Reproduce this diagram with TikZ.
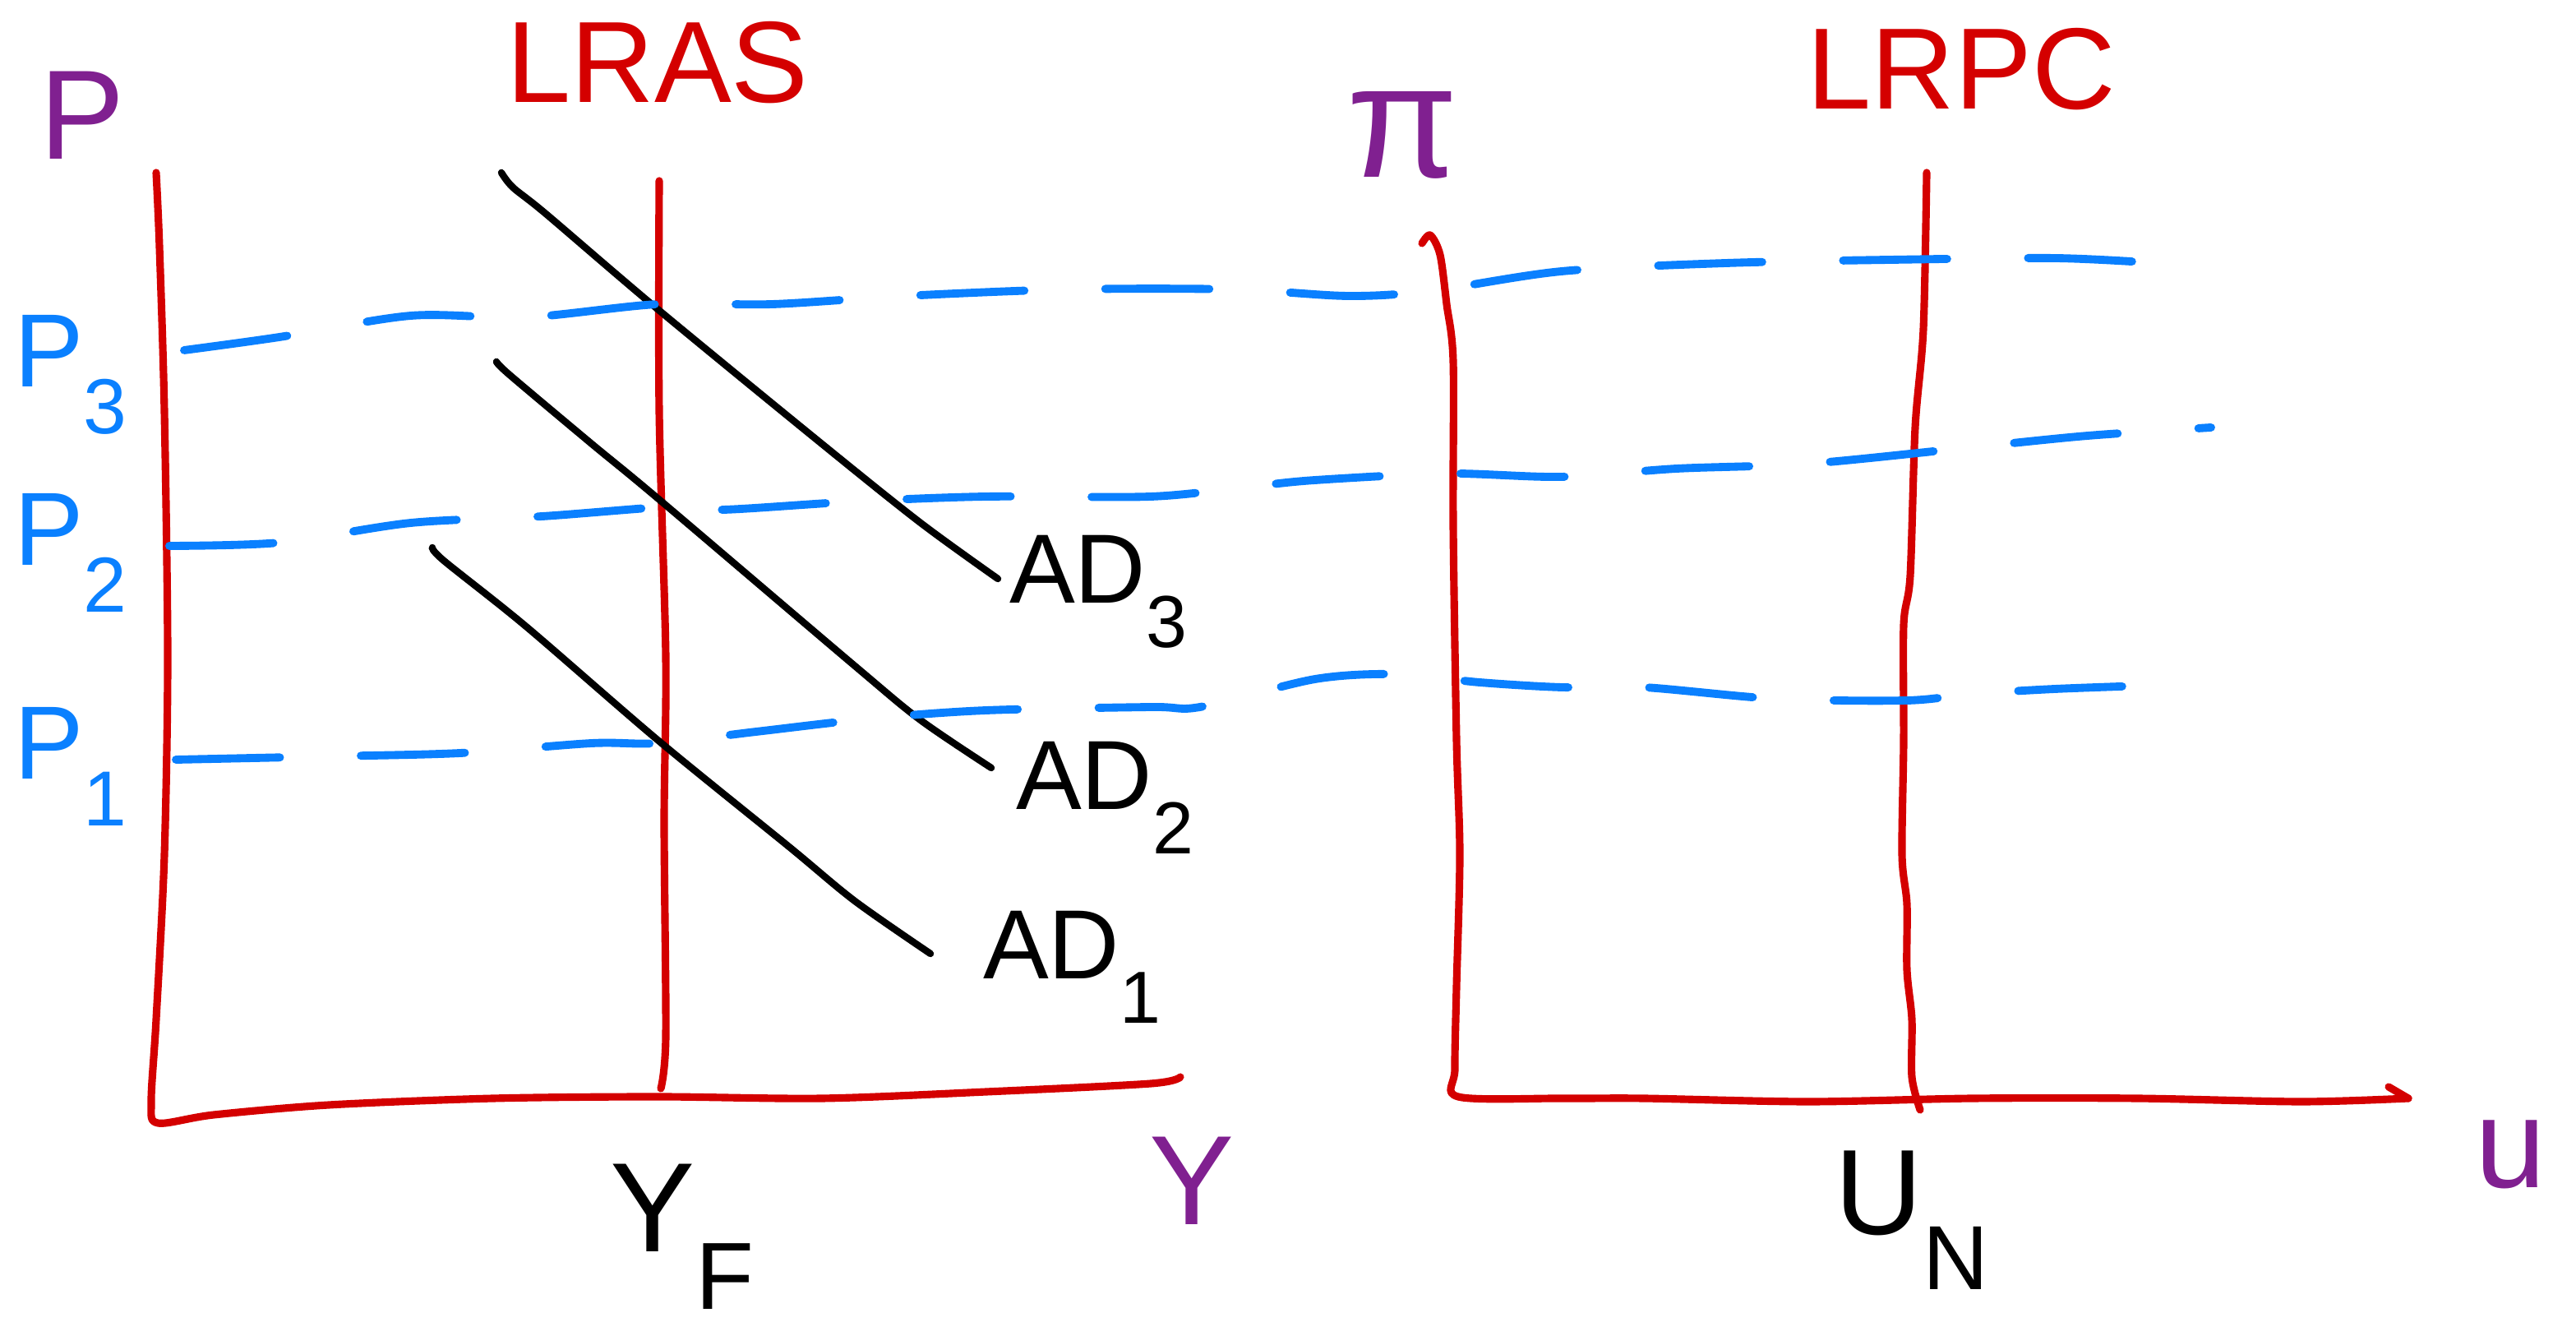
\documentclass[tikz,border=0pt]{standalone}
\usepackage{fontspec}
\setmainfont{Liberation Sans}
\definecolor{axred}{RGB}{212,0,0}
\definecolor{lblpurple}{RGB}{128,32,144}
\definecolor{dashblue}{RGB}{10,128,255}
\newcommand{\hsub}[1]{\raisebox{-0.45em}{\scalebox{0.75}{#1}}}
\begin{document}
\begin{tikzpicture}[x=0.01cm,y=-0.01cm,
  axis/.style={draw=axred,line width=1.3pt,line cap=round,line join=round},
  adline/.style={draw=black,line width=1.2pt,line cap=round},
  pline/.style={draw=dashblue,line width=1.4pt,line cap=round,dash pattern=on 18pt off 14pt},
  redlbl/.style={text=axred,font=\fontsize{20}{22}\selectfont},
  purlbl/.style={text=lblpurple,font=\fontsize{22}{24}\selectfont},
  bluelbl/.style={text=dashblue,font=\fontsize{18}{20}\selectfont,inner sep=0pt},
  blklbl/.style={text=black,font=\fontsize{17}{19}\selectfont},
  sm/.style={smooth,tension=0.5}]
\useasboundingbox (0,0) rectangle (1567,804);

% left axes
\draw[axis] plot[sm] coordinates {(95,105) (97,150) (100,250) (102,400) (100,520) (95,620) (92,670) (96,683) (130,678) (200,672) (300,668) (400,667) (500,668) (600,664) (700,659) (718,655)};
% LRAS
\draw[axis] plot[sm] coordinates {(401,110) (401,250) (405,400) (404,500) (405,630) (402,662)};
% AD curves
\draw[adline] plot[sm] coordinates {(305,105) (312,114) (332,130) (400,188) (500,270) (560,318) (607,352)};
\draw[adline] plot[sm] coordinates {(302,220) (310,228) (360,270) (400,303) (520,405) (560,438) (603,467)};
\draw[adline] plot[sm] coordinates {(263,333) (270,341) (320,381) (400,450) (480,515) (520,548) (566,580)};

% right axes
\draw[axis] plot[sm] coordinates {(865,148) (870,143) (876,155) (880,185) (884,220) (884,320) (886,450) (888,520) (886,600) (885,650) (887,667) (950,668) (1000,668) (1100,670) (1200,668) (1300,668) (1400,670) (1465,668)};
\draw[axis] (1453,661) -- (1465,668);
% LRPC
\draw[axis] plot[sm] coordinates {(1172,105) (1170,200) (1165,260) (1162,350) (1158,380) (1158,450) (1157,520) (1160,550) (1160,590) (1163,620) (1163,655) (1168,675)};

% blue dashed lines
\draw[pline] plot[sm] coordinates {(112,213) (170,205) (250,192) (320,193) (400,185) (470,185) (550,180) (650,176) (750,176) (820,180) (870,177) (950,165) (1050,160) (1150,158) (1250,157) (1312,160)};
\draw[pline] plot[sm] coordinates {(103,332) (170,330) (250,318) (330,314) (410,308) (440,310) (520,305) (600,302) (700,302) (760,296) (800,292) (880,288) (950,290) (1020,285) (1100,282) (1200,272) (1270,265) (1345,260)};
\draw[pline] plot[sm] coordinates {(107,462) (200,460) (280,458) (360,452) (400,452) (460,445) (530,437) (600,432) (700,430) (730,430) (800,413) (850,410) (900,415) (950,418) (1000,418) (1080,425) (1160,426) (1200,422) (1250,419) (1305,417)};

% labels
\node[purlbl] (lblP) at (50,70) {P};
\node[redlbl] (lblLRAS) at (400,38) {LRAS};
\node[purlbl] (lblY) at (725,718) {Y};
\node[blklbl,font=\fontsize{22}{24}\selectfont] (lblYF) at (415,752) {Y\hsub{F}};
\node[bluelbl,anchor=west] (lblP3) at (8,228) {P\hsub{3}};
\node[bluelbl,anchor=west] (lblP2) at (8,336) {P\hsub{2}};
\node[bluelbl,anchor=west] (lblP1) at (8,466) {P\hsub{1}};
\node[blklbl] (lblAD3) at (668,360) {AD\hsub{3}};
\node[blklbl] (lblAD2) at (672,485) {AD\hsub{2}};
\node[blklbl] (lblAD1) at (652,588) {AD\hsub{1}};
\node[purlbl,font=\fontsize{28}{30}\selectfont] (lblpi) at (853,82) {π};
\node[redlbl] (lblLRPC) at (1193,42) {LRPC};
\node[purlbl] (lblu) at (1527,702) {u};
\node[blklbl,font=\fontsize{21}{23}\selectfont] (lblUN) at (1163,742) {U\hsub{N}};
\end{tikzpicture}
\end{document}
